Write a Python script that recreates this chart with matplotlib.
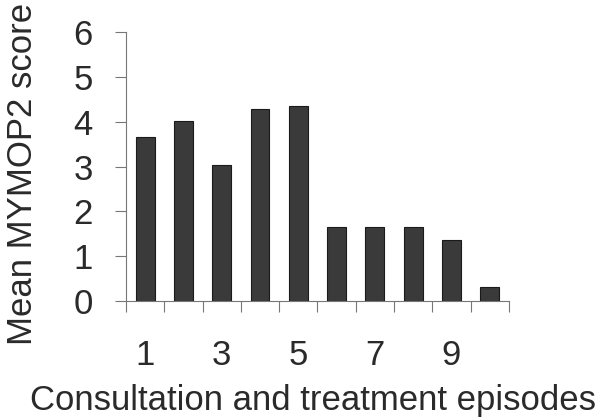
import matplotlib
matplotlib.use('Agg')
import matplotlib.pyplot as plt

plt.rcParams['font.family'] = ['Liberation Sans', 'DejaVu Sans']

episodes = [1, 2, 3, 4, 5, 6, 7, 8, 9, 10]
mean_scores = [3.65, 4.02, 3.04, 4.29, 4.34, 1.65, 1.66, 1.66, 1.35, 0.32]
tick_labels = ['1', '', '3', '', '5', '', '7', '', '9', '']

fig = plt.figure(figsize=(6.01, 4.19), dpi=100)
ax = fig.add_axes([0.2097, 0.2816, 0.637, 0.642])

ax.bar(episodes, mean_scores, width=0.49, color='#3a3a3a',
       edgecolor='#1a1a1a', linewidth=0.8)

ax.set_xlim(0.5, 10.5)
ax.set_ylim(0, 6)

# boundary ticks without labels, labels sit on category centres
ax.set_xticks([x + 0.5 for x in range(0, 11)])
ax.set_xticklabels([])
ax.set_xticks(episodes, minor=True)
ax.set_xticklabels(tick_labels, minor=True)
ax.tick_params(axis='x', which='major', direction='out', length=8,
               width=0.8, color='#777777')
ax.tick_params(axis='x', which='minor', length=0, pad=27, labelsize=25,
               labelcolor='#2a2a2a')

ax.set_yticks(range(0, 7))
ax.tick_params(axis='y', direction='out', length=8, width=0.8,
               color='#777777', pad=16, labelsize=25, labelcolor='#2a2a2a')

for side in ['top', 'right']:
    ax.spines[side].set_visible(False)
for side in ['left', 'bottom']:
    ax.spines[side].set_color('#777777')
    ax.spines[side].set_linewidth(0.8)

fig.text(0.037, 0.585, 'Mean MYMOP2 score', rotation=90, ha='center',
         va='center', fontsize=25, color='#2a2a2a')
fig.text(0.521, 0.043, 'Consultation and treatment episodes', ha='center',
         va='center', fontsize=25, color='#2a2a2a')

plt.savefig('out.png', dpi=100)
